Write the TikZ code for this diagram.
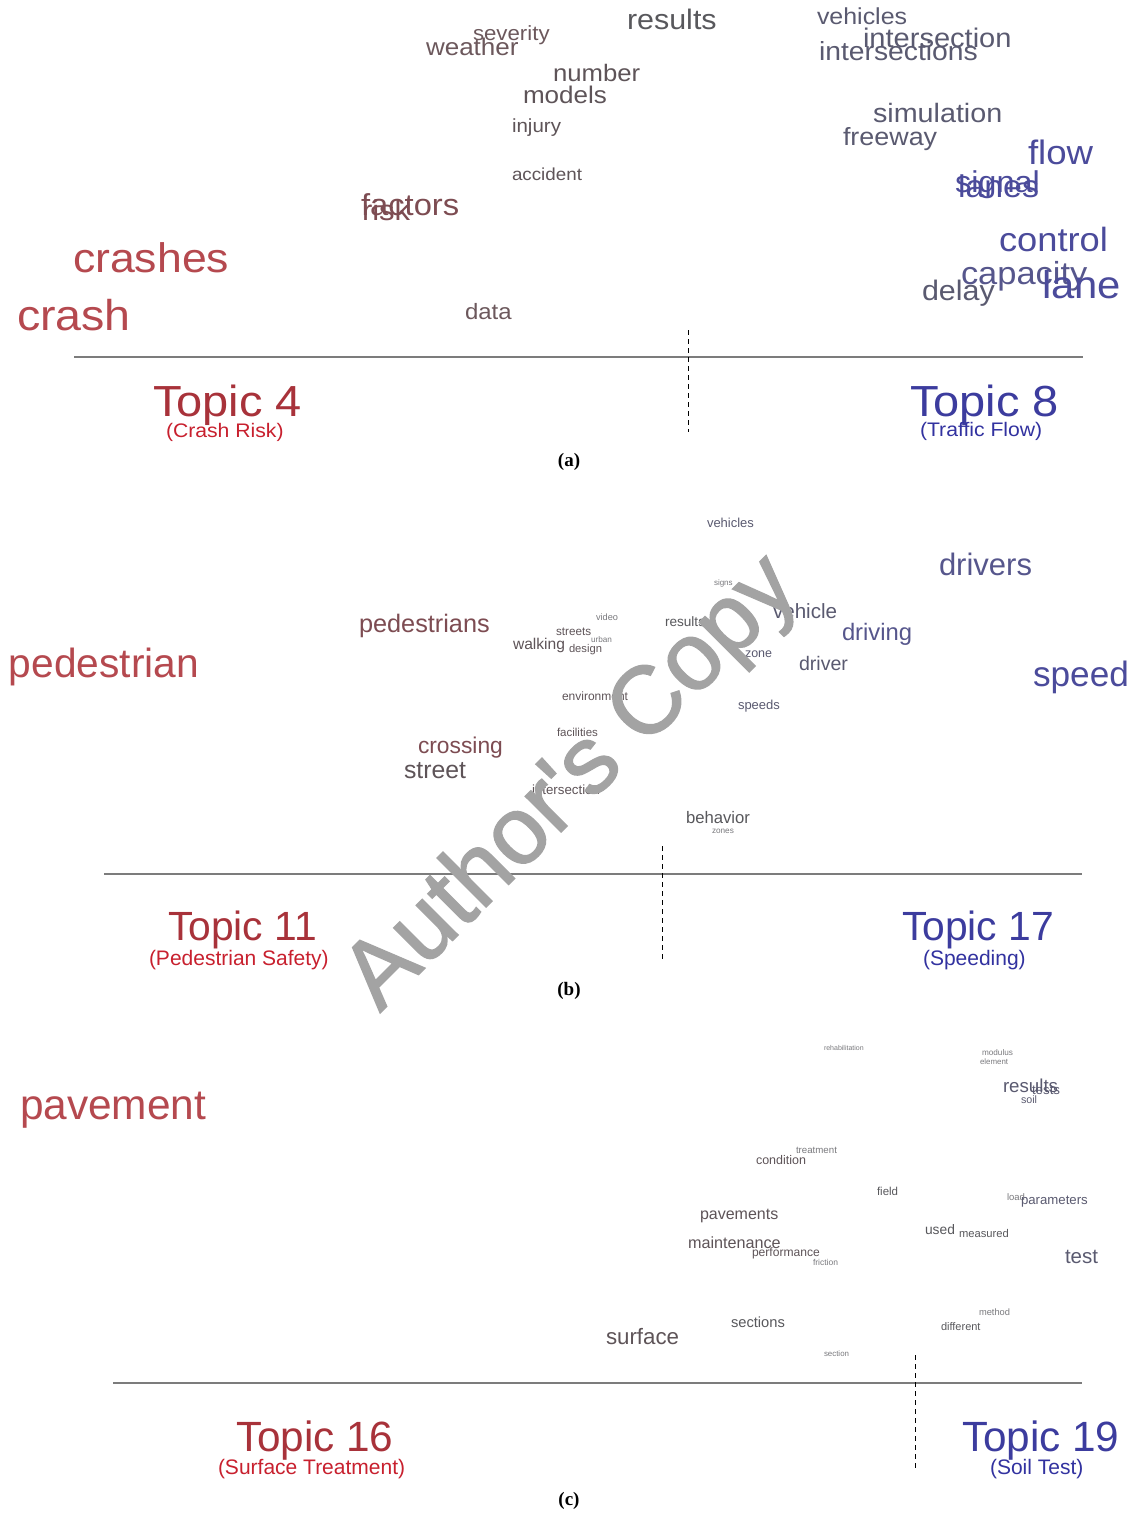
\documentclass[tikz,border=0pt]{standalone}
\usepackage{fontspec}
\setmainfont{Liberation Sans}
\newfontfamily\stfont[FakeStretch=1.08]{Liberation Sans}
\newfontfamily\capfont{Liberation Serif}
\newfontfamily\wmfont[Ligatures=TeXOff,FakeBold=1.5]{Liberation Sans}
\definecolor{redA}{HTML}{B5494F}
\definecolor{redB}{HTML}{7D4C52}
\definecolor{mauve}{HTML}{6C585C}
\definecolor{greyR}{HTML}{5E5458}
\definecolor{greyN}{HTML}{58585C}
\definecolor{greyL}{HTML}{7A7A7E}
\definecolor{greyB}{HTML}{5A5A70}
\definecolor{blueB}{HTML}{56568C}
\definecolor{blueA}{HTML}{4B4B9B}
\definecolor{topred}{HTML}{A8323A}
\definecolor{subred}{HTML}{C8202E}
\definecolor{topblue}{HTML}{3C3C9E}
\definecolor{subblue}{HTML}{3232A0}
\definecolor{wmgrey}{HTML}{A3A3A3}
\definecolor{axisgrey}{HTML}{7C7C7C}
\tikzset{
  wordsty/.style={anchor=base west,inner sep=0pt,outer sep=0pt},
  axisline/.style={draw=axisgrey,line width=2pt},
  splitline/.style={draw=black,line width=0.9pt,dash pattern=on 5pt off 4pt},
  capsty/.style={inner sep=0pt,font=\capfont\bfseries\fontsize{19}{19}\selectfont}
}
\newcommand{\wa}[6]{\node[wordsty,text=#4,font=\stfont\fontsize{#3}{#3}\selectfont] (#6) at (#1,{#2+0.3*#3+1.5}) {#5};}
\newcommand{\wb}[6]{\node[wordsty,text=#4,font=\fontsize{#3}{#3}\selectfont] (#6) at (#1,{#2+0.3*#3+1.5}) {#5};}
\begin{document}
\begin{tikzpicture}[x=1pt,y=-1pt]
\useasboundingbox[fill=white] (0,0) rectangle (1132,1513);
% ---------------- panel (a)
\wa{473}{33}{20.6}{mauve}{severity}{a1}
\wa{426}{47}{24.1}{mauve}{weather}{a2}
\wa{627}{20}{28.2}{greyN}{results}{a3}
\wa{553}{73}{23.8}{greyR}{number}{a4}
\wa{523}{95}{24.1}{greyR}{models}{a5}
\wa{512}{125}{19}{greyR}{injury}{a6}
\wa{512}{174}{17.4}{greyR}{accident}{a7}
\wa{361}{205}{30.3}{redB}{factors}{a8}
\wa{362}{210}{28.7}{redB}{risk}{a9}
\wa{73}{259}{41.3}{redA}{crashes}{a10}
\wa{17}{316}{43.1}{redA}{crash}{a11}
\wa{465}{311}{22.2}{mauve}{data}{a12}
\wa{817}{16}{23.1}{greyB}{vehicles}{a13}
\wa{863}{38}{26.9}{greyB}{intersection}{a14}
\wa{819}{51}{26.2}{greyB}{intersections}{a15}
\wa{873}{113}{26.6}{greyB}{simulation}{a16}
\wa{843}{137}{24.9}{greyB}{freeway}{a17}
\wa{1028}{153}{33.9}{blueA}{flow}{a18}
\wa{955}{182}{30.1}{blueA}{signal}{a19}
\wa{958}{187}{31.4}{blueA}{lanes}{a20}
\wa{999}{240}{33.6}{blueA}{control}{a21}
\wa{961}{273}{31.9}{blueB}{capacity}{a22}
\wa{922}{291}{28.2}{greyB}{delay}{a23}
\wa{1042}{285}{38.7}{blueA}{lane}{a24}
\coordinate (ha1) at (74,357);
\coordinate (ha2) at (1083,357);
\coordinate (va1) at (688,330);
\coordinate (va2) at (688,432);
\path[axisline] (ha1) -- (ha2);
\path[splitline] (va1) -- (va2);
\node[wordsty,text=topred,font=\stfont\fontsize{43.5}{43.5}\selectfont] (t4) at (153,416) {Topic 4};
\node[wordsty,text=subred,font=\stfont\fontsize{19.6}{19.6}\selectfont] (s4) at (166,437) {(Crash Risk)};
\node[wordsty,text=topblue,font=\stfont\fontsize{43.5}{43.5}\selectfont] (t8) at (910,416) {Topic 8};
\node[wordsty,text=subblue,font=\stfont\fontsize{19.6}{19.6}\selectfont] (s8) at (920,436) {(Traffic Flow)};
\node[capsty] (capa) at (569,462) {(a)};
% ---------------- panel (b)
\wb{707}{522}{13}{greyB}{vehicles}{b1}
\wb{714}{582}{8}{greyL}{signs}{b2}
\wb{939}{565}{31}{blueB}{drivers}{b3}
\wb{359}{623}{25.3}{redB}{pedestrians}{b4}
\wb{596}{616}{9.2}{greyL}{video}{b5}
\wb{556}{630}{11.7}{greyR}{streets}{b6}
\wb{591}{639}{8.2}{greyL}{urban}{b7}
\wb{513}{643}{15.6}{greyR}{walking}{b8}
\wb{569}{648}{11.2}{greyR}{design}{b9}
\wb{665}{621}{13.6}{greyN}{results}{b10}
\wb{773}{611}{20.6}{greyB}{vehicle}{b11}
\wb{842}{632}{23.8}{blueB}{driving}{b12}
\wb{745}{652}{12.5}{greyB}{zone}{b13}
\wb{799}{663}{19.6}{greyB}{driver}{b14}
\wb{9}{664}{40.7}{redA}{pedestrian}{b15}
\wb{1033}{674}{35.2}{blueA}{speed}{b16}
\wb{562}{695}{12}{greyR}{environment}{b17}
\wb{738}{704}{13}{greyB}{speeds}{b18}
\wb{557}{732}{11.5}{greyR}{facilities}{b19}
\wb{418}{745}{22.8}{redB}{crossing}{b20}
\wb{404}{770}{24.8}{greyR}{street}{b21}
\wb{532}{789}{13.3}{greyR}{intersection}{b22}
\wb{686}{817}{16.7}{greyN}{behavior}{b23}
\wb{712}{830}{8.2}{greyL}{zones}{b24}
\coordinate (hb1) at (104,874);
\coordinate (hb2) at (1082,874);
\coordinate (vb1) at (662,846);
\coordinate (vb2) at (662,960);
\path[axisline] (hb1) -- (hb2);
\path[splitline] (vb1) -- (vb2);
\node[wordsty,text=topred,font=\fontsize{40.8}{40.8}\selectfont] (t11) at (168,940) {Topic 11};
\node[wordsty,text=subred,font=\fontsize{21}{21}\selectfont] (s11) at (149,965) {(Pedestrian Safety)};
\node[wordsty,text=topblue,font=\fontsize{40.8}{40.8}\selectfont] (t17) at (902,940) {Topic 17};
\node[wordsty,text=subblue,font=\fontsize{21}{21}\selectfont] (s17) at (923,965) {(Speeding)};
\node[capsty] (capb) at (569,991) {(b)};
% ---------------- panel (c)
\wb{824}{1047}{7}{greyL}{rehabilitation}{c1}
\wb{982}{1052}{8.2}{greyL}{modulus}{c2}
\wb{980}{1061}{7.9}{greyL}{element}{c3}
\wb{1003}{1085}{18.7}{greyB}{results}{c4}
\wb{1032}{1089}{13.3}{greyB}{tests}{c5}
\wb{1021}{1099}{10.7}{greyB}{soil}{c6}
\wb{20}{1105}{42.4}{redA}{pavement}{c7}
\wb{796}{1149}{9.7}{greyL}{treatment}{c8}
\wb{756}{1159}{12.5}{greyR}{condition}{c9}
\wb{877}{1191}{11.5}{greyN}{field}{c10}
\wb{1007}{1196}{9.5}{greyL}{load}{c11}
\wb{1021}{1199}{13.2}{greyB}{parameters}{c12}
\wb{700}{1213}{16}{greyR}{pavements}{c13}
\wb{925}{1229}{13.8}{greyN}{used}{c14}
\wb{959}{1233}{11.2}{greyN}{measured}{c15}
\wb{688}{1242}{16.2}{greyR}{maintenance}{c16}
\wb{752}{1251}{12.1}{greyR}{performance}{c17}
\wb{813}{1261}{8.5}{greyL}{friction}{c18}
\wb{1065}{1256}{20.5}{greyB}{test}{c19}
\wb{979}{1311}{9.3}{greyL}{method}{c20}
\wb{941}{1326}{11}{greyN}{different}{c21}
\wb{731}{1322}{14.7}{greyN}{sections}{c22}
\wb{606}{1336}{22.3}{greyR}{surface}{c23}
\wb{824}{1353}{7.9}{greyL}{section}{c24}
\coordinate (hc1) at (113,1383);
\coordinate (hc2) at (1082,1383);
\coordinate (vc1) at (915,1355);
\coordinate (vc2) at (915,1468);
\path[axisline] (hc1) -- (hc2);
\path[splitline] (vc1) -- (vc2);
\node[wordsty,text=topred,font=\fontsize{42.3}{42.3}\selectfont] (t16) at (236,1451) {Topic 16};
\node[wordsty,text=subred,font=\fontsize{21}{21}\selectfont] (s16) at (218,1474) {(Surface Treatment)};
\node[wordsty,text=topblue,font=\fontsize{42.3}{42.3}\selectfont] (t19) at (962,1451) {Topic 19};
\node[wordsty,text=subblue,font=\fontsize{21}{21}\selectfont] (s19) at (990,1474) {(Soil Test)};
\node[capsty] (capc) at (569,1501) {(c)};
% ---------------- watermark
\node[wordsty,rotate=45,text=wmgrey,font=\wmfont\fontsize{95.5}{95.5}\selectfont] (wm) at (380,1013) {Author's Copy};
\end{tikzpicture}
\end{document}
